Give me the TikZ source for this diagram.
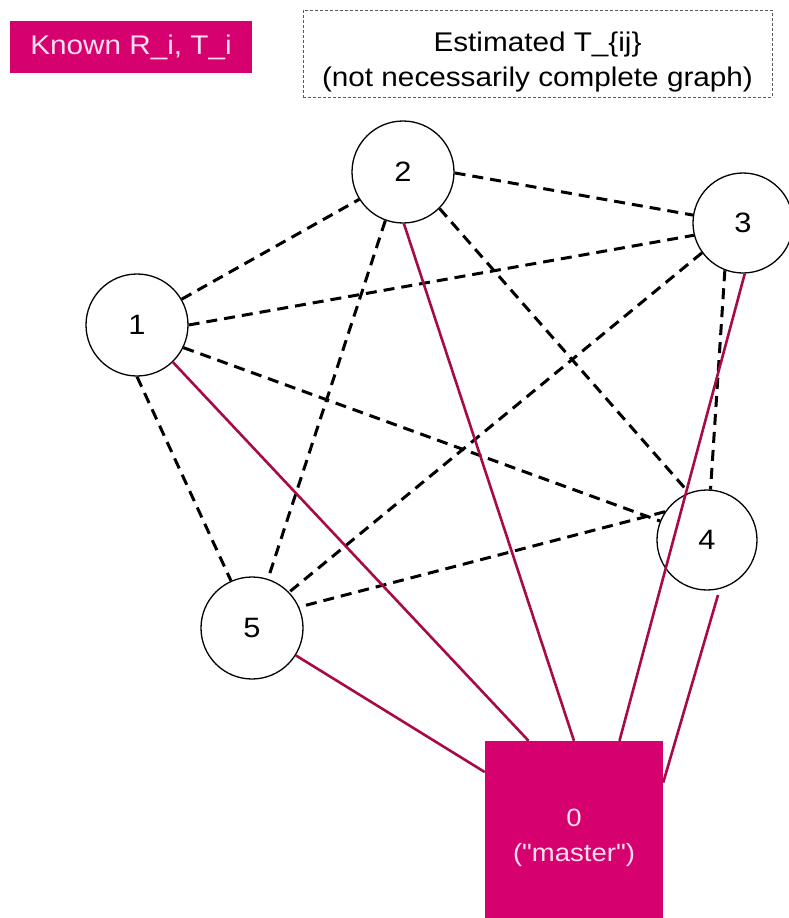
\documentclass[tikz,border=0pt]{standalone}
\usepackage{fontspec}
\setmainfont{Liberation Sans}[FakeStretch=1.1]
\newfontfamily\qfont{Liberation Sans}[FakeStretch=1.1]
\definecolor{mag}{RGB}{214,0,110}
\definecolor{magline}{RGB}{168,10,72}
\definecolor{pinktext}{RGB}{255,222,240}
\definecolor{dotgray}{RGB}{90,90,90}
\tikzset{
  vtx/.style={circle,draw=black,line width=1.3pt,fill=white,minimum size=102pt,inner sep=0pt,font=\fontsize{28}{30}\selectfont},
  est/.style={line width=3pt,dash pattern=on 11pt off 7pt,black},
  known/.style={line width=2.6pt,magline},
  magbox/.style={fill=mag,draw=none,text=pinktext,inner sep=0pt,align=center},
  dotbox/.style={draw=dotgray,line width=1pt,dash pattern=on 3pt off 2pt,inner sep=0pt,align=center}
}
\begin{document}
\begin{tikzpicture}[x=1pt,y=-1pt]
\useasboundingbox (0,0) rectangle (789,918);
% legend
\node[magbox,minimum width=242pt,minimum height=52pt,font=\fontsize{27}{34}\selectfont] (legA) at (131,47) {\raisebox{-2pt}{Known R\_i, T\_i}};
\node[dotbox,minimum width=469pt,minimum height=87pt,font=\fontsize{27}{35}\selectfont] (legB) at (537.5,53.5) {\\[-31pt]\rule{0pt}{0pt}\\[-2pt]Estimated T\_\{ij\}\\(not necessarily complete graph)};
% master
\node[magbox,minimum width=178pt,minimum height=178pt,font=\qfont\fontsize{25}{35}\selectfont] (m) at (574,830) {\rule{0pt}{12pt}\\[-13pt]0\\("master")};
\coordinate (c4) at (718,595);
% vertices
\node[vtx] (n1) at (137,325) {1};
\node[vtx] (n2) at (403,172) {2};
\node[vtx,minimum size=100pt] (n3) at (743,223) {3};
\node[vtx,minimum size=100pt] (n4) at (707,540) {4};
\node[vtx] (n5) at (252,628) {5};
% estimated edges
\draw[est] (n1.30) -- (n2.-148);
\draw[est] (n1.0) -- (n3.-166);
\draw[est] (n1.-26) -- (n4.158);
\draw[est] (n1.-90) -- (n5.114);
\draw[est] (n2.-1) -- (n3.171);
\draw[est] (n2.-45) -- (n4.111);
\draw[est] (n2.-110) -- (n5.72);
\draw[est] (n3.-111) -- (n4.86);
\draw[est] (n3.-144) -- (n5.44);
\draw[est] (n4.146) -- (n5.24);
% known edges
\draw[known] (n1.-46) -- (m.117);
\draw[known] (n2.-89) -- (m.90);
\draw[known] (n3.-88) -- (m.63);
\draw[known] (c4) -- (m.28);
\draw[known] (n5.-32) -- (m.147);
\end{tikzpicture}
\end{document}
